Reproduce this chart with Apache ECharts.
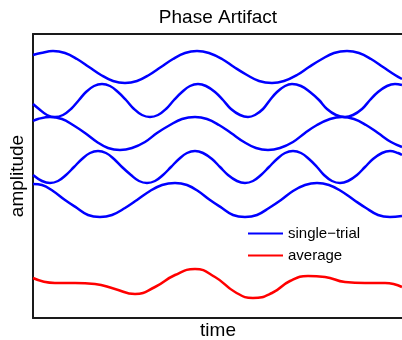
<!DOCTYPE html>
<html>
<head>
<meta charset="utf-8">
<script src="https://cdn.jsdelivr.net/npm/echarts@6/dist/echarts.min.js"></script>
<style>
html,body{margin:0;padding:0;background:#fff;overflow:hidden;}
#chart{width:412px;height:340px;}
</style>
</head>
<body>
<div id="chart"></div>
<script>
// Data (time, amplitude)
var trial1T = [0,8,20,32,44,56,68,80,92,104,116,128,140,152,164,176,189,201,214,226,239,251,264,276,289,301,314,326,338,350,362,369];
var trial1A = [263,265,267,265,259,251,243,237,235,237,243,251,259,265,267,265,259,251,243,237,235,237,243,251,259,265,267,265,259,251,243,239];

var trial2T = [0,6,14,22,30,38,46,53,61,69,77,85,93,101,109,117,125,133,141,149,157,165,173,182,190,198,207,215,222,230,237,244,252,259,268,277,286,294,303,312,320,329,337,345,354,362,369];
var trial2A = [214,209,203,201,203,209,218,226,232,234,232,226,218,209,203,201,203,209,218,226,232,234,232,226,218,209,203,201,203,209,218,226,232,234,232,226,218,209,203,201,203,209,218,226,232,234,233];

var trial3T = [0,5,17,29,40,52,64,75,87,99,112,124,137,149,162,174,186,198,211,223,235,247,260,272,284,297,309,321,333,345,358,369];
var trial3A = [197,199,201,199,193,185,176,170,168,170,176,185,193,199,201,199,193,185,176,170,168,170,176,185,193,199,201,199,193,185,176,171];

var trial4T = [0,9,17,25,33,41,49,57,65,73,81,89,98,106,114,122,130,138,146,154,162,170,179,187,195,204,212,220,228,236,244,252,260,268,276,284,291,299,307,315,324,332,340,349,357,365,369];
var trial4A = [143,137,135,137,143,151,159,165,167,165,159,151,143,137,135,137,143,151,159,165,167,165,159,151,143,137,135,137,143,151,159,165,167,165,159,151,143,137,135,137,143,151,159,165,167,165,163];

var trial5T = [0,9,20,32,44,55,67,79,92,104,117,129,142,154,165,177,189,200,212,224,236,248,260,272,284,296,308,321,333,345,357,369];
var trial5A = [134,133,127,118,110,103,101,103,110,118,127,133,135,133,127,118,110,103,101,103,110,118,127,133,135,133,127,118,110,103,101,102];

var avgT = [0,22,42,62,82,102,122,142,162,182,202,220,239,257,275,292,312,332,352,369];
var avgA = [40,35,35,34,29,24,31,43,49,41,26,20,25,37,42,41,36,35,35,31];

var titleText = 'Phase Artifact';
var xName = 'time';
var yName = 'amplitude';
var singleName = 'single\u2212trial';
var avgName = 'average';

function zip(t, a) { return t.map(function (v, i) { return [v, a[i]]; }); }

var FONT = '"Liberation Sans", Arial, Helvetica, sans-serif';
var trials = [[trial1T, trial1A],[trial2T, trial2A],[trial3T, trial3A],[trial4T, trial4A],[trial5T, trial5A]];

var series = trials.map(function (p) {
  return {
    name: singleName, type: 'line', data: zip(p[0], p[1]), smooth: 0.4,
    showSymbol: false, symbol: 'none', lineStyle: { color: '#0000ff', width: 2.5 },
    itemStyle: { color: '#0000ff' }, animation: false, xAxisIndex: 0, yAxisIndex: 0
  };
});
series.push({
  name: avgName, type: 'line', data: zip(avgT, avgA), smooth: 0.5,
  showSymbol: false, symbol: 'none', lineStyle: { color: '#ff0000', width: 2.5 },
  itemStyle: { color: '#ff0000' }, animation: false, xAxisIndex: 0, yAxisIndex: 0
});

var axisLine = { show: true, onZero: false, lineStyle: { color: '#1a1a1a', width: 2 } };

var chart = echarts.init(document.getElementById('chart'), null, { renderer: 'canvas' });
chart.setOption({
  animation: false,
  backgroundColor: '#fff',
  title: {
    text: titleText, left: 213, top: 3, textAlign: 'center',
    textStyle: { fontFamily: FONT, fontSize: 19, fontWeight: 'normal', color: '#000' }
  },
  legend: {
    orient: 'vertical', left: 248, top: 226, itemGap: 7, padding: 0,
    itemWidth: 35, itemHeight: 2, icon: 'rect',
    data: [{ name: singleName, itemStyle: { color: '#0000ff' } }, { name: avgName, itemStyle: { color: '#ff0000' } }],
    textStyle: { fontFamily: FONT, fontSize: 15, color: '#000' },
    selectedMode: false
  },
  grid: { left: 33, right: 0, top: 34, bottom: 22, containLabel: false, outerBoundsMode: 'none' },
  xAxis: [
    { type: 'value', min: 0, max: 379, position: 'bottom', name: xName, nameLocation: 'middle', nameGap: 3,
      nameTextStyle: { fontFamily: FONT, fontSize: 19, color: '#000', verticalAlign: 'top', padding: [0, 9, 0, 0] },
      axisLine: axisLine, axisTick: { show: false }, axisLabel: { show: false }, splitLine: { show: false } },
    { type: 'value', min: 0, max: 379, position: 'top',
      axisLine: axisLine, axisTick: { show: false }, axisLabel: { show: false }, splitLine: { show: false } }
  ],
  yAxis: [
    { type: 'value', min: 0, max: 284, position: 'left', name: yName, nameLocation: 'middle', nameGap: 6,
      nameTextStyle: { fontFamily: FONT, fontSize: 19, color: '#000', verticalAlign: 'bottom' },
      axisLine: axisLine, axisTick: { show: false }, axisLabel: { show: false }, splitLine: { show: false } }
  ],
  series: series
});
</script>
</body>
</html>
